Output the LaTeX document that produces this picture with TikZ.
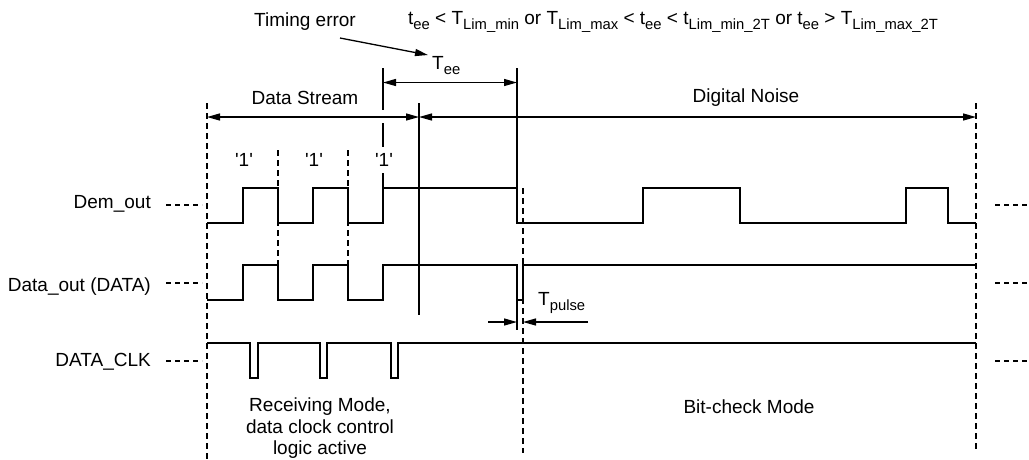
\documentclass[tikz,border=0pt]{standalone}
\usepackage{fontspec}
\setmainfont{Liberation Sans}
\usetikzlibrary{arrows.meta, positioning}
\newcommand{\sbs}[1]{\raisebox{-0.5ex}{\fontsize{14.8}{14.8}\selectfont #1}}

\begin{document}
\begin{tikzpicture}[x=1pt, y=-1pt,
		sig/.style={line width=2.6pt, line join=miter},
		guide/.style={line width=1.2pt, dash pattern=on 6pt off 4pt},
		stub/.style={line width=1.2pt, dash pattern=on 5pt off 4pt},
		dim/.style={line width=1.3pt},
		bothhead/.style={{Triangle[length=13pt,width=7pt]}-{Triangle[length=13pt,width=7pt]}},
		onehead/.style={-{Triangle[length=13pt,width=7pt]}},
		lbl/.style={font=\fontsize{19}{21.7}\selectfont, inner sep=0pt}]
	\useasboundingbox (0,0) rectangle (1029,459);
	% signal names and stubs
	\foreach \y/\sname/\txt in {
		208.5/dem/Dem\_out,
		291.5/data/Data\_out (DATA),
		366/clk/DATA\_CLK
	}{
		\node[lbl, anchor=base east] (\sname) at (151,\y) {\txt};
	}
	\foreach \y/\sname in {205/dem, 283/data, 361/clk}
	{
		\coordinate (\sname-l1) at (166,\y); \coordinate (\sname-l2) at (202,\y);
		\coordinate (\sname-r1) at (995,\y); \coordinate (\sname-r2) at (1029,\y);
		\draw[stub] (\sname-l1) -- (\sname-l2);
		\draw[stub] (\sname-r1) -- (\sname-r2);
	}
	% waveforms
	\draw[sig] (207,223) -| (243,188) -| (278,223) -| (313,188) -| (348,223) -| (383,188) -| (517,223) -| (643,188) -| (740,223) -| (906,188) -| (948,223) -- (976,223);
	\draw[sig] (207,300) -| (243,265) -| (278,300) -| (313,265) -| (348,300) -| (383,265) -| (517,300) -| (523,265) -- (976,265);
	\draw[sig] (207,343) -| (250,378) -| (258,343) -| (320,378) -| (327,343) -| (391,378) -| (398,343) -- (976,343);
	% dashed guides
	\draw[guide] (207,103) -- (207,459);
	\draw[guide] (976,103) -- (976,452);
	\draw[guide] (523,188) -- (523,453);
	\foreach \x in {278, 348}
	{\draw[guide] (\x,150) -- (\x,297);}
	% solid guides
	\draw[dim] (383,68) -- (383,110) (383,123) -- (383,147) (383,173) -- (383,188);
	\draw[dim] (419,103) -- (419,315);
	\draw[dim] (517,68) -- (517,188);
	\draw[dim] (517,300) -- (517,330);
	% bit labels
	\foreach \x/\bname in {244/b1, 314/b2, 384/b3}
	{\node[lbl] (\bname) at (\x,160) {\textquotesingle 1\textquotesingle};}
	% intervals
	\coordinate (ds-l) at (207,117); \coordinate (ds-m) at (419,117); \coordinate (ds-r) at (976,117);
	\draw[dim, bothhead] (ds-l) -- (ds-m);
	\draw[dim, bothhead] (ds-m) -- (ds-r);
	\node[lbl] (stream) at (305,98) {Data Stream};
	\node[lbl] (noise) at (746,98) {Digital Noise};
	\coordinate (tee-l) at (383,82.5); \coordinate (tee-r) at (517,82.5);
	\draw[dim, bothhead] (tee-l) -- (tee-r);
	\node[lbl, anchor=base west] (tee) at (432,69) {T\sbs{ee}};
	\coordinate (tp-l) at (488,322); \coordinate (tp-a) at (517,322);
	\coordinate (tp-r) at (588,322); \coordinate (tp-b) at (523,322);
	\draw[dim, onehead] (tp-l) -- (tp-a);
	\draw[dim, onehead] (tp-r) -- (tp-b);
	\node[lbl, anchor=base west] (tpulse) at (538,305) {T\sbs{pulse}};
	% timing error
	\node[lbl] (terr) at (305,22) {Timing error};
	\coordinate (errtail) at (340,38);
	\coordinate (errhead) at (428,55);
	\draw[dim, onehead] (errtail) -- (errhead);
	\node[lbl, anchor=west] (cond) at (408,22) {t\sbs{ee} < T\sbs{Lim\_min} or T\sbs{Lim\_max} < t\sbs{ee} < t\sbs{Lim\_min\_2T} or t\sbs{ee} > T\sbs{Lim\_max\_2T}};
	% modes
	\node[lbl, align=center] (rxmode) at (320,428.3) {Receiving Mode,\\data clock control\\logic active};
	\node[lbl] (bcmode) at (749,406.7) {Bit-check Mode};
\end{tikzpicture}
\end{document}
